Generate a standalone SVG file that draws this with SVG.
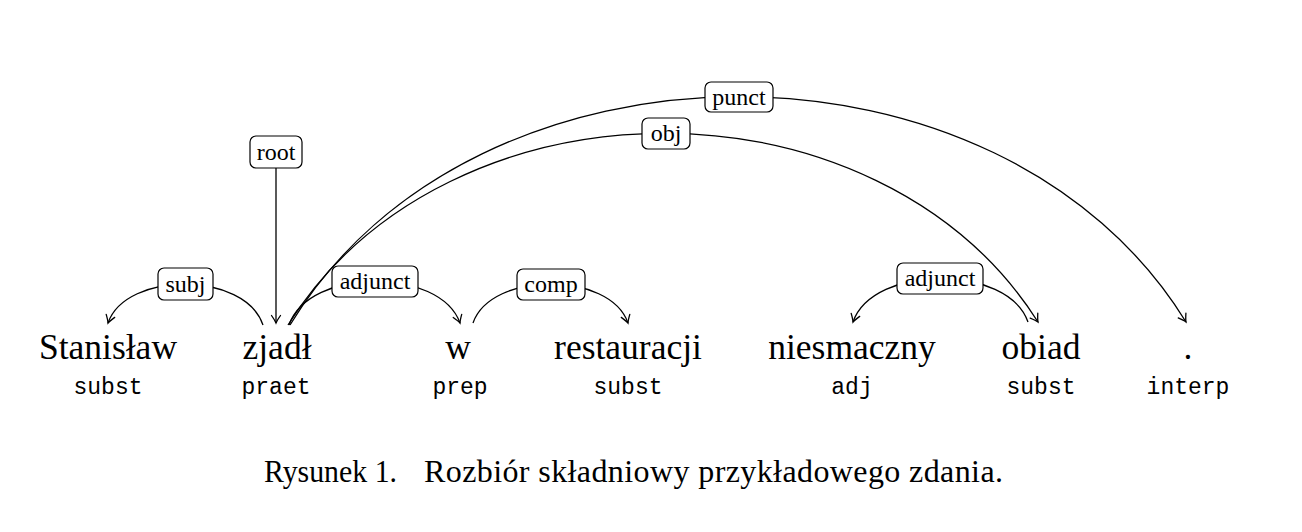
<svg xmlns="http://www.w3.org/2000/svg" width="1302" height="532" viewBox="0 0 1302 532">
<style>
.w{font-family:"Liberation Serif",serif;font-size:35.5px;text-anchor:middle;fill:#000}
.t{font-family:"Liberation Mono",monospace;font-size:23px;text-anchor:middle;fill:#000}
.l{font-family:"Liberation Serif",serif;font-size:24px;text-anchor:middle;fill:#000}
.b{fill:#fff;stroke:#000;stroke-width:1.2}
.e{fill:none;stroke:#000;stroke-width:1.3;marker-end:url(#ah)}
.cap{font-family:"Liberation Serif",serif;font-size:32px;fill:#000}
</style>
<defs>
<marker id="ah" markerUnits="userSpaceOnUse" markerWidth="16" markerHeight="16" viewBox="-10 -8 12 16" refX="0" refY="0" orient="auto" overflow="visible">
<path d="M-7.5,-4.5 Q-2.5,-1 0,0 Q-2.5,1 -7.5,4.5" fill="none" stroke="#000" stroke-width="1.3" stroke-linecap="round"/>
</marker>
</defs>
<rect width="1302" height="532" fill="#fff"/>
<g id="connectors">
<path class="e" d="M263,325 C245,271 126,271 108,323"/>
<path class="e" d="M276,168 L276,323"/>
<path class="e" d="M289,325 C309,267 440,267 460,323"/>
<path class="e" d="M473,323 C491,271 610,271 628,323"/>
<path class="e" d="M1028,322 C1008,264 873,264 853,322"/>
<path class="e" d="M288,325 C448,70 878,70 1038,322"/>
<path class="e" d="M290,325 C475,21 1001,21 1186,322"/>
</g>
<g id="lbl-subj"><rect class="b" x="158" y="268" width="55" height="32" rx="6"/><text class="l" x="185.5" y="292">subj</text></g>
<g id="lbl-root"><rect class="b" x="250" y="136" width="52" height="32" rx="6"/><text class="l" x="276" y="160">root</text></g>
<g id="lbl-adjunct1"><rect class="b" x="332" y="266" width="86" height="31" rx="6"/><text class="l" x="375" y="289">adjunct</text></g>
<g id="lbl-comp"><rect class="b" x="517" y="269" width="68" height="31" rx="6"/><text class="l" x="551" y="292">comp</text></g>
<g id="lbl-adjunct2"><rect class="b" x="897" y="263" width="86" height="31" rx="6"/><text class="l" x="940" y="286">adjunct</text></g>
<g id="lbl-obj"><rect class="b" x="642" y="118" width="48" height="31" rx="6"/><text class="l" x="666" y="141">obj</text></g>
<g id="lbl-punct"><rect class="b" x="705" y="82" width="68" height="30" rx="6"/><text class="l" x="739" y="105">punct</text></g>
<g id="n-stanislaw"><text class="w" x="108" y="359">Stanisław</text><text class="t" x="108" y="394">subst</text></g>
<g id="n-zjadl"><text class="w" x="277" y="359">zjadł</text><text class="t" x="276" y="394">praet</text></g>
<g id="n-w"><text class="w" x="458" y="359">w</text><text class="t" x="460" y="394">prep</text></g>
<g id="n-restauracji"><text class="w" x="628" y="359">restauracji</text><text class="t" x="628" y="394">subst</text></g>
<g id="n-niesmaczny"><text class="w" x="852" y="359">niesmaczny</text><text class="t" x="852" y="394">adj</text></g>
<g id="n-obiad"><text class="w" x="1041" y="359">obiad</text><text class="t" x="1041" y="394">subst</text></g>
<g id="n-dot"><text class="w" x="1188" y="359">.</text><text class="t" x="1188" y="394">interp</text></g>
<text class="cap" x="264" y="482" textLength="133" lengthAdjust="spacingAndGlyphs">Rysunek 1.</text>
<text class="cap" x="424" y="482" textLength="579" lengthAdjust="spacing">Rozbiór składniowy przykładowego zdania.</text>
</svg>
